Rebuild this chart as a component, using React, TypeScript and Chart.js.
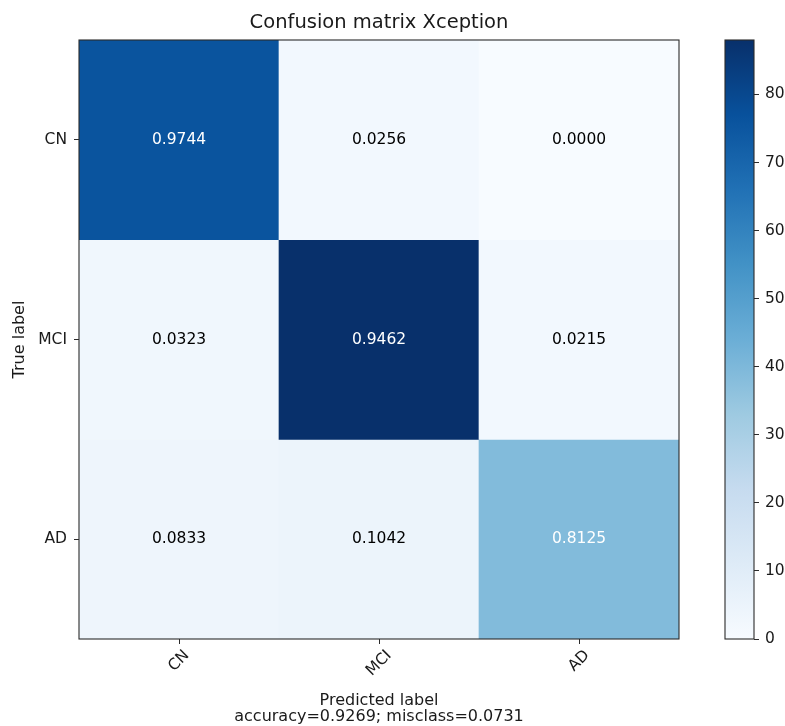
import React, { useEffect, useRef } from "react";
import { Chart, registerables } from "chart.js";

Chart.register(...registerables);

// ---- data ----
const classes = ["CN", "MCI", "AD"];
const countsCN = [76, 2, 0];
const countsMCI = [3, 88, 2];
const countsAD = [4, 5, 39];
const normCN = [0.9744, 0.0256, 0.0];
const normMCI = [0.0323, 0.9462, 0.0215];
const normAD = [0.0833, 0.1042, 0.8125];
const colorbarMax = 88;
const colorbarTicks = [0, 10, 20, 30, 40, 50, 60, 70, 80];
const titleText = "Confusion matrix Xception";
const yTitle = "True label";
const xTitle = "Predicted label";
const statsText = "accuracy=0.9269; misclass=0.0731";

const counts = [countsCN, countsMCI, countsAD];
const norms = [normCN, normMCI, normAD];

const BLUES = [
  "#f7fbff", "#deebf7", "#c6dbef", "#9ecae1", "#6baed6",
  "#4292c6", "#2171b5", "#08519c", "#08306b",
];

function hexToRgb(h: string) {
  const n = parseInt(h.slice(1), 16);
  return [(n >> 16) & 255, (n >> 8) & 255, n & 255];
}
function blues(t: number) {
  t = Math.max(0, Math.min(1, t));
  const p = t * 8;
  const i = Math.min(7, Math.floor(p));
  const f = p - i;
  const a = hexToRgb(BLUES[i]);
  const b = hexToRgb(BLUES[i + 1]);
  const c = a.map((v, k) => Math.round(v + (b[k] - v) * f));
  return `rgb(${c[0]},${c[1]},${c[2]})`;
}

const FONT = "'DejaVu Sans', sans-serif";
const TEXT = "#1a1a1a";
const SPINE = "#2b2b2b";
const TICK_SIZE = 15.5;

const framePlugin = {
  id: "frame",
  afterDraw(chart: any) {
    const { ctx, chartArea: a } = chart;
    ctx.save();
    ctx.strokeStyle = SPINE;
    ctx.lineWidth = 1.1;
    ctx.strokeRect(a.left, a.top, a.right - a.left, a.bottom - a.top);
    ctx.restore();
  },
};

const textPlugin = {
  id: "cmtext",
  afterDatasetsDraw(chart: any) {
    const { ctx } = chart;
    ctx.save();
    ctx.font = `${TICK_SIZE}px ${FONT}`;
    ctx.textAlign = "center";
    ctx.textBaseline = "middle";
    const maxNorm = Math.max(...norms.flat());
    const thresh = maxNorm / 2;
    chart.data.datasets.forEach((ds: any, i: number) => {
      const meta = chart.getDatasetMeta(i);
      meta.data.forEach((el: any, j: number) => {
        const p = el.getProps(["x", "y", "base"], true);
        ctx.fillStyle = norms[i][j] > thresh ? "#ffffff" : "#000000";
        ctx.fillText(norms[i][j].toFixed(4), p.x, (p.y + p.base) / 2);
      });
    });
    ctx.restore();
  },
  afterDraw(chart: any) {
    const { ctx, chartArea: a } = chart;
    const cx = (a.left + a.right) / 2;
    ctx.save();
    ctx.fillStyle = TEXT;
    ctx.textAlign = "center";
    ctx.textBaseline = "alphabetic";
    ctx.font = `19.5px ${FONT}`;
    ctx.fillText(titleText, cx, 28);
    ctx.font = `16px ${FONT}`;
    ctx.fillText(xTitle, cx, 705);
    ctx.fillText(statsText, cx, 721);
    ctx.save();
    ctx.translate(24, (a.top + a.bottom) / 2);
    ctx.rotate(-Math.PI / 2);
    ctx.fillText(yTitle, 0, 0);
    ctx.restore();
    // rotated x tick labels, centered under tick (matplotlib ha=center)
    ctx.font = `${TICK_SIZE}px ${FONT}`;
    ctx.textBaseline = "middle";
    const xs = chart.scales.x;
    classes.forEach((lab, i) => {
      const x = xs.getPixelForTick(i);
      const w = ctx.measureText(lab).width;
      const h = 11.5;
      const s = (w + h) * Math.SQRT1_2;
      const cy = a.bottom + 5 + 5 + s / 2;
      ctx.save();
      ctx.translate(x, cy);
      ctx.rotate(-Math.PI / 4);
      ctx.fillText(lab, 0, 0);
      ctx.restore();
    });
    ctx.restore();
  },
};

function MainChart() {
  const ref = useRef<HTMLCanvasElement>(null);
  useEffect(() => {
    const datasets = counts.map((row, i) => ({
      label: classes[i],
      data: row.map(() => 1),
      backgroundColor: row.map((c) => blues(c / colorbarMax)),
      borderWidth: 0,
      barPercentage: 1,
      categoryPercentage: 1,
    }));
    const chart = new Chart(ref.current!, {
      type: "bar",
      data: { labels: classes, datasets },
      options: {
        animation: false,
        responsive: false,
        devicePixelRatio: 1,
        layout: { padding: { left: 0, top: 40, right: 21, bottom: 0 } },
        plugins: { legend: { display: false }, tooltip: { enabled: false }, title: { display: false } },
        scales: {
          x: {
            stacked: true,
            offset: true,
            grid: { display: true, offset: false, drawOnChartArea: false, drawTicks: true, tickLength: 5, color: SPINE },
            border: { display: false },
            ticks: { display: false },
            afterFit(s: any) { s.height = 87; },
          },
          y: {
            stacked: true,
            min: 0,
            max: 3,
            reverse: true,
            grid: { display: true, drawOnChartArea: false, drawTicks: true, tickLength: 5, color: SPINE },
            border: { display: false },
            ticks: {
              color: TEXT,
              padding: 7,
              font: { family: FONT, size: TICK_SIZE },
              callback: (v: any) => classes[Math.floor(Number(v))],
            },
            afterBuildTicks(s: any) {
              s.ticks = classes.map((_, i) => ({ value: i + 0.5 }));
            },
            afterFit(s: any) { s.width = 79; },
          },
        },
      } as any,
      plugins: [textPlugin, framePlugin],
    });
    return () => chart.destroy();
  }, []);
  return <canvas ref={ref} width={700} height={726} style={{ position: "absolute", left: 0, top: 0 }} />;
}

function ColorBar() {
  const ref = useRef<HTMLCanvasElement>(null);
  useEffect(() => {
    const chart = new Chart(ref.current!, {
      type: "bar",
      data: {
        labels: [""],
        datasets: [{
          data: [[0, colorbarMax]],
          backgroundColor: (c: any) => {
            const ch = c.chart;
            if (!ch.chartArea) return BLUES[4];
            const ys = ch.scales.y;
            const g = ch.ctx.createLinearGradient(0, ys.getPixelForValue(0), 0, ys.getPixelForValue(colorbarMax));
            BLUES.forEach((col, i) => g.addColorStop(i / 8, col));
            return g;
          },
          borderWidth: 0,
          barPercentage: 1,
          categoryPercentage: 1,
        }],
      },
      options: {
        animation: false,
        responsive: false,
        devicePixelRatio: 1,
        layout: { padding: { left: 25, top: 40, right: 0, bottom: 87 } },
        plugins: { legend: { display: false }, tooltip: { enabled: false } },
        scales: {
          x: { display: false },
          y: {
            position: "right",
            min: 0,
            max: colorbarMax,
            grid: { display: true, drawOnChartArea: false, drawTicks: true, tickLength: 5, color: SPINE },
            border: { display: false },
            ticks: { color: TEXT, padding: 6, font: { family: FONT, size: TICK_SIZE } },
            afterBuildTicks(s: any) {
              s.ticks = colorbarTicks.map((v) => ({ value: v }));
            },
            afterFit(s: any) { s.width = 31; },
          },
        },
      } as any,
      plugins: [framePlugin],
    });
    return () => chart.destroy();
  }, []);
  return <canvas ref={ref} width={85} height={726} style={{ position: "absolute", left: 700, top: 0 }} />;
}

export default function App() {
  return (
    <div style={{ position: "absolute", left: 0, top: 0, width: 785, height: 726, background: "#fff", overflow: "hidden" }}>
      <MainChart />
      <ColorBar />
    </div>
  );
}
